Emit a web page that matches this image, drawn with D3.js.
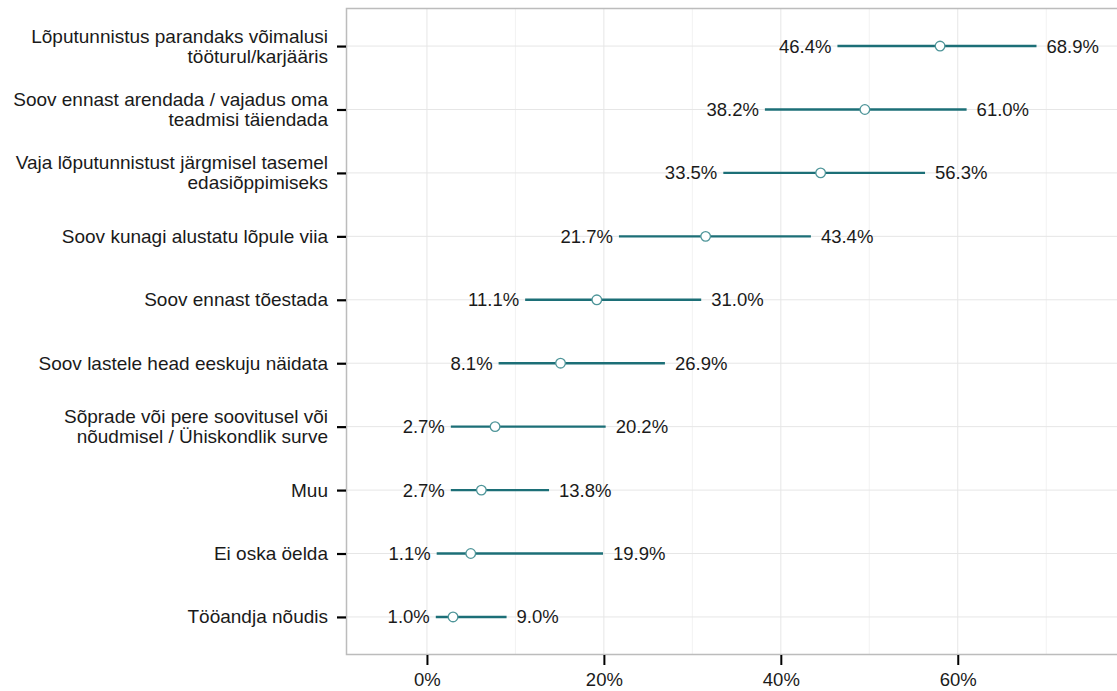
<!DOCTYPE html>
<html>
<head>
<meta charset="utf-8">
<script src="https://cdn.jsdelivr.net/npm/d3@7"></script>
<style>
  html, body { margin: 0; padding: 0; background: #fff; }
  svg { display: block; font-family: "Liberation Sans", Arial, sans-serif; }
</style>
</head>
<body>
<svg id="chart" width="1117" height="691"></svg>
<script>
const categories = [
  ["Lõputunnistus parandaks võimalusi", "tööturul/karjääris"],
  ["Soov ennast arendada / vajadus oma", "teadmisi täiendada"],
  ["Vaja lõputunnistust järgmisel tasemel", "edasiõppimiseks"],
  ["Soov kunagi alustatu lõpule viia"],
  ["Soov ennast tõestada"],
  ["Soov lastele head eeskuju näidata"],
  ["Sõprade või pere soovitusel või", "nõudmisel / Ühiskondlik surve"],
  ["Muu"],
  ["Ei oska öelda"],
  ["Tööandja nõudis"]
];
const lowerValues = [46.4, 38.2, 33.5, 21.7, 11.1, 8.1, 2.7, 2.7, 1.1, 1.0];
const pointValues = [58.0, 49.5, 44.5, 31.5, 19.2, 15.1, 7.7, 6.15, 4.95, 2.95];
const upperValues = [68.9, 61.0, 56.3, 43.4, 31.0, 26.9, 20.2, 13.8, 19.9, 9.0];
const majorTicks = [0, 20, 40, 60];
const minorTicks = [10, 30, 50, 70];

const FS = 18.5;
const FSY = 19;
const svg = d3.select("#chart");
const panel = { left: 346, right: 1117, top: 8, bottom: 655 };

const x = d3.scaleLinear().domain([-9.15, 78]).range([panel.left, panel.right]);
const y = d3.scalePoint().domain(d3.range(categories.length))
  .range([panel.top, panel.bottom]).padding(0.6);

// grid
const g = svg.append("g");
g.selectAll("line.minor").data(minorTicks).enter().append("line")
  .attr("x1", d => x(d)).attr("x2", d => x(d))
  .attr("y1", panel.top).attr("y2", panel.bottom)
  .attr("stroke", "#f2f2f2").attr("stroke-width", 1);
g.selectAll("line.major").data(majorTicks).enter().append("line")
  .attr("x1", d => x(d)).attr("x2", d => x(d))
  .attr("y1", panel.top).attr("y2", panel.bottom)
  .attr("stroke", "#e6e6e6").attr("stroke-width", 1);
g.selectAll("line.hgrid").data(d3.range(categories.length)).enter().append("line")
  .attr("x1", panel.left).attr("x2", panel.right)
  .attr("y1", d => y(d)).attr("y2", d => y(d))
  .attr("stroke", "#e6e6e6").attr("stroke-width", 1);

// panel border
svg.append("path")
  .attr("d", `M${panel.right},${panel.top + 0.5}H${panel.left + 0.5}V${panel.bottom - 0.5}H${panel.right}`)
  .attr("fill", "none").attr("stroke", "#bcbcbc").attr("stroke-width", 1.5);

// x axis
const xAxis = d3.axisBottom(x).tickValues(majorTicks).tickFormat(d => d + "%")
  .tickSizeInner(10).tickSizeOuter(0);
const xa = svg.append("g").attr("transform", `translate(0,${panel.bottom})`).call(xAxis);
xa.select(".domain").remove();
xa.selectAll(".tick line").attr("stroke", "#000").attr("stroke-width", 2);
xa.selectAll(".tick text").attr("font-size", FS).attr("fill", "#1a1a1a")
  .attr("font-family", "Liberation Sans, Arial, sans-serif")
  .attr("y", 31).attr("dy", 0);

// y axis
const yAxis = d3.axisLeft(y).tickSizeInner(9).tickSizeOuter(0).tickFormat(() => "");
const ya = svg.append("g").attr("transform", `translate(${panel.left},0)`).call(yAxis);
ya.select(".domain").remove();
ya.selectAll(".tick line").attr("stroke", "#000").attr("stroke-width", 2.2);
ya.selectAll(".tick text").remove();

const ylab = svg.append("g");
categories.forEach((lines, i) => {
  const t = ylab.append("text")
    .attr("x", 328).attr("text-anchor", "end")
    .attr("font-size", FSY).attr("fill", "#1a1a1a");
  const n = lines.length;
  lines.forEach((ln, j) => {
    t.append("tspan").attr("x", 328)
      .attr("y", y(i) + 6.5 + (j - (n - 1) / 2) * 20)
      .text(ln);
  });
});

// ranges
const rows = d3.range(categories.length);
svg.append("g").selectAll("line").data(rows).enter().append("line")
  .attr("x1", i => x(lowerValues[i])).attr("x2", i => x(upperValues[i]))
  .attr("y1", i => y(i)).attr("y2", i => y(i))
  .attr("stroke", "#1c6f77").attr("stroke-width", 2.4);

svg.append("g").selectAll("circle").data(rows).enter().append("circle")
  .attr("cx", i => x(pointValues[i])).attr("cy", i => y(i)).attr("r", 4.8)
  .attr("fill", "#fff").attr("stroke", "#4e9599").attr("stroke-width", 1.3);

const fmt = v => v.toFixed(1) + "%";
svg.append("g").selectAll("text").data(rows).enter().append("text")
  .attr("x", i => x(lowerValues[i]) - 6).attr("y", i => y(i) + 6.5)
  .attr("text-anchor", "end").attr("font-size", FS).attr("fill", "#1a1a1a")
  .text(i => fmt(lowerValues[i]));
svg.append("g").selectAll("text").data(rows).enter().append("text")
  .attr("x", i => x(upperValues[i]) + 10).attr("y", i => y(i) + 6.5)
  .attr("text-anchor", "start").attr("font-size", FS).attr("fill", "#1a1a1a")
  .text(i => fmt(upperValues[i]));
</script>
</body>
</html>
